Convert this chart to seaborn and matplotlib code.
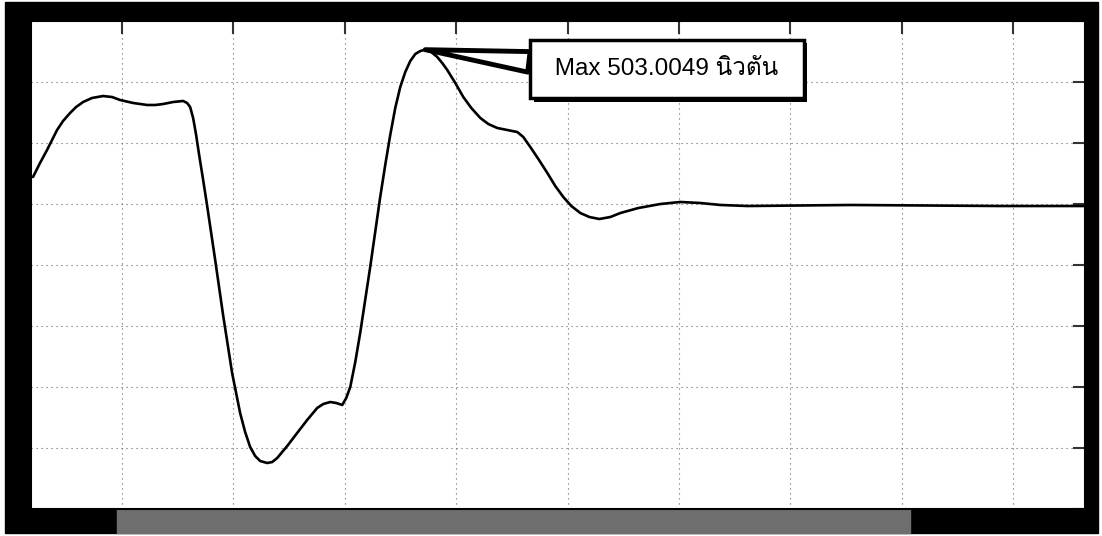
import numpy as np
import pandas as pd
import matplotlib
matplotlib.use("Agg")
import matplotlib.pyplot as plt
import seaborn as sns
from matplotlib import font_manager
from matplotlib.ft2font import FT2Font
from matplotlib.patches import Rectangle
import matplotlib.patheffects as pe

# ---- data ----
time_s = [0.200, 0.263, 0.326, 0.371, 0.416, 0.470, 0.533, 0.587, 0.650, 0.730,
          0.829, 0.910, 0.982, 1.099, 1.225, 1.297, 1.368, 1.458, 1.548, 1.584,
          1.611, 1.638, 1.665, 1.692, 1.728, 1.764, 1.836, 1.907, 1.988, 2.060,
          2.105, 2.150, 2.195, 2.240, 2.303, 2.348, 2.393, 2.483, 2.572, 2.662,
          2.752, 2.806, 2.869, 2.923, 2.977, 3.013, 3.049, 3.094, 3.138, 3.183,
          3.228, 3.273, 3.318, 3.363, 3.408, 3.453, 3.498, 3.543, 3.588, 3.633,
          3.678, 3.722, 3.776, 3.830, 3.875, 3.920, 3.992, 4.064, 4.136, 4.217,
          4.289, 4.369, 4.459, 4.549, 4.603, 4.666, 4.738, 4.819, 4.890, 4.962,
          5.034, 5.115, 5.196, 5.286, 5.385, 5.474, 5.636, 5.834, 6.013, 6.193,
          6.373, 6.615, 7.541, 8.889, 9.652]
force_n = [294.3, 317.2, 338.5, 354.9, 371.3, 386.1, 399.2, 409.0, 417.2, 423.8,
           427.0, 425.4, 420.5, 415.6, 412.3, 412.3, 413.9, 417.2, 418.9, 415.6,
           409.0, 391.0, 363.1, 330.3, 289.3, 246.7, 158.2, 68.0, -27.0, -92.6,
           -123.8, -148.4, -163.1, -171.3, -174.6, -173.0, -166.4, -146.7, -125.4, -104.1,
           -84.4, -77.9, -74.6, -76.2, -79.5, -68.0, -50.0, -9.0, 38.5, 92.6,
           146.7, 204.1, 261.5, 313.9, 363.1, 407.4, 441.8, 466.4, 484.4, 495.9,
           500.8, 503.0049, 499.2, 491.0, 481.1, 469.7, 448.4, 425.4, 407.4, 391.0,
           381.1, 374.6, 371.3, 368.0, 359.8, 343.4, 323.8, 300.8, 279.5, 261.5,
           246.7, 235.2, 228.7, 225.4, 228.7, 235.2, 243.4, 250.0, 253.3, 251.6,
           248.4, 246.7, 248.4, 246.7, 246.7]
x_ticks = [1, 2, 3, 4, 5, 6, 7, 8, 9]
y_ticks = [-250, -150, -50, 50, 150, 250, 350, 450, 550]
peak_x = 3.722
peak_y = 503.0049
peak_label = "Max 503.0049 นิวตัน"
label_pos = (5.892, 471.3)

df = pd.DataFrame({"t": time_s, "F": force_n})

sns.set_style("white")

names = {f.name for f in font_manager.fontManager.ttflist}


def thai_font():
    for f in font_manager.fontManager.ttflist:
        try:
            if 0x0E19 in FT2Font(f.fname).get_charmap():
                return f.name
        except Exception:
            pass
    return None


fam = []
for n in ["Liberation Sans Narrow", "Liberation Sans"]:
    if n in names:
        fam.append(n)
        break
th = thai_font()
if th:
    fam.append(th)
fam.append("DejaVu Sans")
plt.rcParams["font.family"] = fam

W, H = 1102, 536
fig = plt.figure(figsize=(W / 100, H / 100), dpi=100, facecolor="white")
ax = fig.add_axes([31 / W, 27 / H, (1085 - 31) / W, (509 - 21) / H])

# scanned black frame and grey strip
fig.patches.append(Rectangle((5 / W, 3 / H), (1098 - 5) / W, 531 / H,
                             transform=fig.transFigure, color="black", zorder=-10))
fig.patches.append(Rectangle((117 / W, 3 / H), (910 - 117) / W, 24 / H,
                             transform=fig.transFigure, color="#6e6e6e", zorder=-9))

sns.lineplot(data=df, x="t", y="F", ax=ax, color="black", linewidth=1.9)
for ln in ax.lines:
    ln.set_solid_joinstyle("round")
    ln.set_solid_capstyle("round")

ax.set_xlim(0.182, 9.647)
ax.set_ylim(-250, 550)
ax.set_xticks(x_ticks)
ax.set_yticks(y_ticks)
ax.set_xlabel("")
ax.set_ylabel("")
ax.set_facecolor("white")
ax.grid(True, linestyle=(0, (1, 3.5)), color="#666666", linewidth=0.8)
ax.tick_params(direction="in", length=9, width=1.5, color="#333333",
               top=True, right=True, labelbottom=False, labelleft=False)
for s in ax.spines.values():
    s.set_color("black")
    s.set_linewidth(1.5)

t = ax.annotate(" " + peak_label + " ", xy=(peak_x, peak_y), xytext=label_pos,
                textcoords="data", ha="center", va="center", fontsize=17.5,
                color="black",
                bbox=dict(boxstyle="square,pad=0.75", fc="white", ec="black", lw=2.5),
                arrowprops=dict(arrowstyle="wedge,tail_width=0.85,shrink_factor=0.5",
                                fc="white", ec="black", lw=3.5, relpos=(0.0, 0.72),
                                shrinkA=0, shrinkB=0))
t.get_bbox_patch().set_path_effects([
    pe.SimplePatchShadow(offset=(2.5, -2.5), shadow_rgbFace="black", alpha=1.0),
    pe.Normal()])

fig.savefig("out.png", dpi=100, facecolor="white")
